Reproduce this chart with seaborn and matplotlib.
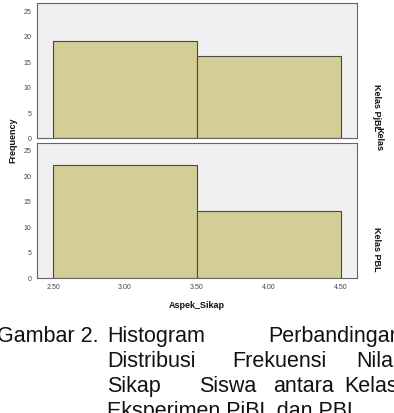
import numpy as np
import pandas as pd
import seaborn as sns
import matplotlib.pyplot as plt

# histogram bins and counts
bin_edges = [2.5, 3.5, 4.5]
kelas = ["Kelas PjBL", "Kelas PBL"]
counts_pjbl = [19, 16]
counts_pbl = [22, 13]
x_ticks = [2.5, 3.0, 3.5, 4.0, 4.5]
y_ticks = [0, 5, 10, 15, 20, 25]

centers = [(a + b) / 2 for a, b in zip(bin_edges[:-1], bin_edges[1:])]
df = pd.DataFrame({
    "Aspek_Sikap": centers * 2,
    "Kelas": [kelas[0]] * 2 + [kelas[1]] * 2,
    "Frequency": counts_pjbl + counts_pbl,
})

sns.set_style("white")
plt.rcParams["font.family"] = ["Liberation Sans", "DejaVu Sans"]

fig = plt.figure(figsize=(3.94, 4.14), dpi=100)
ax_top = fig.add_axes([37 / 394, 1 - 139 / 414, 320 / 394, 135 / 414])
ax_bot = fig.add_axes([37 / 394, 1 - 278.5 / 414, 320 / 394, 135 / 414])

bar_fill = "#d3ce97"
bar_edge = "#4a4a42"

for ax, k in zip([ax_top, ax_bot], kelas):
    sub = df[df["Kelas"] == k]
    sns.histplot(data=sub, x="Aspek_Sikap", weights="Frequency", bins=bin_edges,
                 color=bar_fill, edgecolor=bar_edge, linewidth=0.8, alpha=1,
                 ax=ax)
    ax.set_facecolor("#f0f0f0")
    ax.set_xlim(2.389, 4.611)
    ax.set_ylim(0, 26.4)
    ax.set_yticks(y_ticks)
    ax.set_yticklabels([str(t) for t in y_ticks])
    ax.tick_params(axis="y", length=3, width=0.7, pad=1, labelsize=5, colors="#444444")
    ax.tick_params(axis="x", length=3, width=0.7, pad=1, labelsize=5, colors="#444444")
    ax.set_xlabel("")
    ax.set_ylabel("")
    for s in ax.spines.values():
        s.set_color("#666666")
        s.set_linewidth(0.8)

ax_top.set_xticks([])
ax_bot.set_xticks(x_ticks)
ax_bot.set_xticklabels([f"{t:.2f}" for t in x_ticks])

fig.text(13 / 394, 1 - 140 / 414, "Frequency", rotation=90, ha="center", va="center",
         fontsize=6.5, fontweight="bold", color="#111111")
fig.text(197 / 394, 1 - 305 / 414, "Aspek_Sikap", ha="center", va="center",
         fontsize=6.5, fontweight="bold", color="#111111")
fig.text(377 / 394, 1 - 108 / 414, kelas[0], rotation=270, ha="center", va="center",
         fontsize=6.5, fontweight="bold", color="#111111")
fig.text(379 / 394, 1 - 139 / 414, "Kelas", rotation=270, ha="center", va="center",
         fontsize=6.5, fontweight="bold", color="#111111")
fig.text(377 / 394, 1 - 249 / 414, kelas[1], rotation=270, ha="center", va="center",
         fontsize=6.5, fontweight="bold", color="#111111")

# caption, justified by word positions
caption = [
    (342, [(-3, "Gambar 2."), (107, "Histogram"), (268, "Perbandingan")]),
    (367, [(107, "Distribusi"), (232, "Frekuensi"), (356, "Nilai")]),
    (392, [(107, "Sikap"), (199, "Siswa"), (273, "antara"), (344, "Kelas")]),
    (417, [(107, "Eksperimen PjBL dan PBL")]),
]
for y, words in caption:
    for x, w in words:
        fig.text(x / 394, 1 - y / 414, w, ha="left", va="baseline",
                 fontsize=15.5, color="#111111")

fig.savefig("out.png", dpi=100)
